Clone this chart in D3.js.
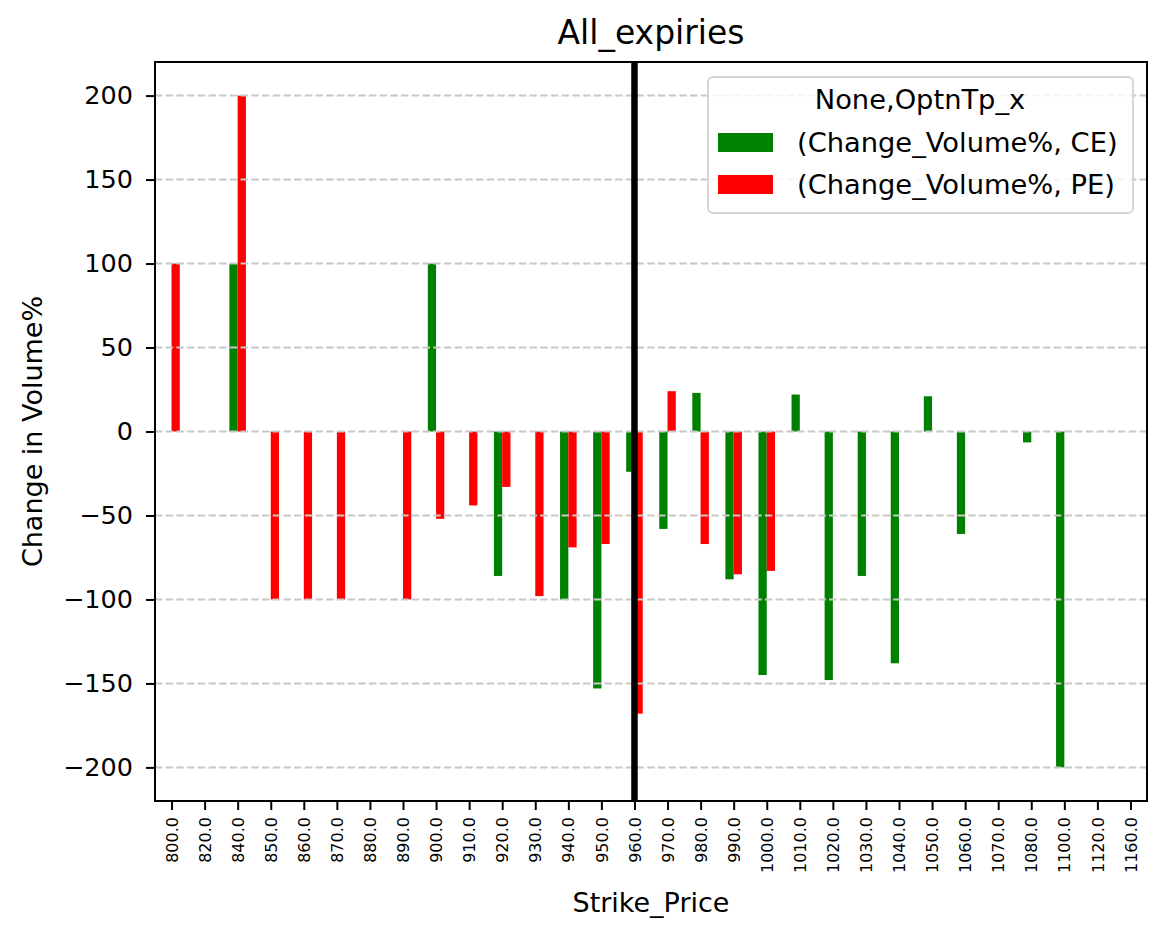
<!DOCTYPE html>
<html>
<head>
<meta charset="utf-8">
<script src="https://cdn.jsdelivr.net/npm/d3@7"></script>
<style>
  body { margin: 0; background: #fff; }
  text { font-family: 'DejaVu Sans', sans-serif; fill: #000; }
</style>
</head>
<body>
<svg id="chart"></svg>
<script>
// strike categories
const strikes = ['800.0', '820.0', '840.0', '850.0', '860.0', '870.0', '880.0', '890.0', '900.0', '910.0',
  '920.0', '930.0', '940.0', '950.0', '960.0', '970.0', '980.0', '990.0', '1000.0', '1010.0',
  '1020.0', '1030.0', '1040.0', '1050.0', '1060.0', '1070.0', '1080.0', '1100.0', '1120.0', '1160.0'];
// (Change_Volume%, CE)
const ceValues = [null, null, 100, null, null, null, null, null, 100, null,
  -86, null, -100, -153, -24, -58, 23, -88, -145, 22,
  -148, -86, -138, 21, -61, null, -6.5, -200, null, null];
// (Change_Volume%, PE)
const peValues = [100, null, 200, -100, -100, -100, null, -100, -52, -44,
  -33, -98, -69, -67, -168, 24, -67, -85, -83, null,
  null, null, null, null, null, null, null, null, null, null];
const yTicks = [-200, -150, -100, -50, 0, 50, 100, 150, 200];
const spotStrike = '960.0';
const seriesNames = ['(Change_Volume%, CE)', '(Change_Volume%, PE)'];
const colors = ['green', 'red'];

const [width, height] = [1166, 939];
const margin = { left: 155, right: 19, top: 62, bottom: 138 };

let svg = d3.select('#chart')
  .attr('width', width)
  .attr('height', height)

let x = d3.scaleLinear()
  .domain([-0.5, strikes.length - 0.5])
  .range([margin.left, width - margin.right])

let y = d3.scaleLinear()
  .domain([-220, 220])
  .range([height - margin.bottom, margin.top])

const barW = 0.25

// bars first, grid over them like matplotlib
let series = [ceValues, peValues]
series.forEach(function(vals, s) {
  svg.append('g')
    .selectAll('rect')
    .data(vals.map(function(v, i) { return { i: i, v: v } }).filter(function(d) { return d.v !== null }))
    .enter()
    .append('rect')
    .attr('x', function(d) { return x(d.i - barW + s * barW) })
    .attr('width', x(barW) - x(0))
    .attr('y', function(d) { return y(Math.max(0, d.v)) })
    .attr('height', function(d) { return Math.abs(y(d.v) - y(0)) })
    .attr('fill', colors[s])
})

// horizontal grid
svg.append('g')
  .selectAll('line')
  .data(yTicks)
  .enter()
  .append('line')
  .attr('x1', x.range()[0])
  .attr('x2', x.range()[1])
  .attr('y1', function(d) { return y(d) })
  .attr('y2', function(d) { return y(d) })
  .attr('stroke', '#c8c8c8')
  .attr('stroke-width', 2)
  .attr('stroke-dasharray', '7.5,3.2')

// spot line
svg.append('line')
  .attr('x1', x(strikes.indexOf(spotStrike)))
  .attr('x2', x(strikes.indexOf(spotStrike)))
  .attr('y1', y.range()[0])
  .attr('y2', y.range()[1])
  .attr('stroke', '#000')
  .attr('stroke-width', 6.5)

// y axis
let yAxis = svg.append('g')
  .attr('transform', 'translate(' + margin.left + ',0)')
  .call(d3.axisLeft(y).tickValues(yTicks).tickSize(9).tickPadding(13)
    .tickFormat(function(d) { return d < 0 ? '\u2212' + Math.abs(d) : d }))
yAxis.select('.domain').remove()
yAxis.selectAll('line').attr('stroke-width', 2)
yAxis.selectAll('text').attr('font-size', 25.5).attr('font-family', 'DejaVu Sans')

// x axis
let xAxis = svg.append('g')
  .attr('transform', 'translate(0,' + y.range()[0] + ')')
  .call(d3.axisBottom(x).tickValues(d3.range(strikes.length)).tickSize(9)
    .tickFormat(function(i) { return strikes[i] }))
xAxis.select('.domain').remove()
xAxis.selectAll('line').attr('stroke-width', 2)
xAxis.selectAll('text')
  .attr('font-size', 16)
  .attr('font-family', 'DejaVu Sans')
  .attr('text-anchor', 'end')
  .attr('transform', 'rotate(-90)')
  .attr('x', -16)
  .attr('y', 0)
  .attr('dy', '0.35em')

// frame
svg.append('rect')
  .attr('x', x.range()[0])
  .attr('y', y.range()[1])
  .attr('width', x.range()[1] - x.range()[0])
  .attr('height', y.range()[0] - y.range()[1])
  .attr('fill', 'none')
  .attr('stroke', '#000')
  .attr('stroke-width', 2)

// titles
svg.append('text')
  .attr('x', (x.range()[0] + x.range()[1]) / 2)
  .attr('y', 44)
  .attr('text-anchor', 'middle')
  .attr('font-size', 33)
  .text('All_expiries')

svg.append('text')
  .attr('x', (x.range()[0] + x.range()[1]) / 2)
  .attr('y', 912)
  .attr('text-anchor', 'middle')
  .attr('font-size', 27)
  .text('Strike_Price')

svg.append('text')
  .attr('transform', 'translate(42,' + y(0) + ') rotate(-90)')
  .attr('text-anchor', 'middle')
  .attr('font-size', 27)
  .text('Change in Volume%')

// legend
let legend = svg.append('g')
legend.append('rect')
  .attr('x', 708)
  .attr('y', 77)
  .attr('width', 425)
  .attr('height', 136)
  .attr('rx', 5)
  .attr('fill', 'rgba(255,255,255,0.8)')
  .attr('stroke', '#d6d6d6')
  .attr('stroke-width', 2)
legend.append('text')
  .attr('x', 920)
  .attr('y', 109)
  .attr('text-anchor', 'middle')
  .attr('font-size', 27.3)
  .text('None,OptnTp_x')

let items = legend.selectAll('g.item')
  .data(seriesNames)
  .enter()
  .append('g')
  .attr('class', 'item')
  .attr('transform', function(d, i) { return 'translate(0,' + i * 42 + ')' })
items.append('rect')
  .attr('x', 718)
  .attr('y', 133)
  .attr('width', 55)
  .attr('height', 19)
  .attr('fill', function(d, i) { return colors[i] })
items.append('text')
  .attr('x', 797)
  .attr('y', 152)
  .attr('font-size', 27.3)
  .text(function(d) { return d })
</script>
</body>
</html>
